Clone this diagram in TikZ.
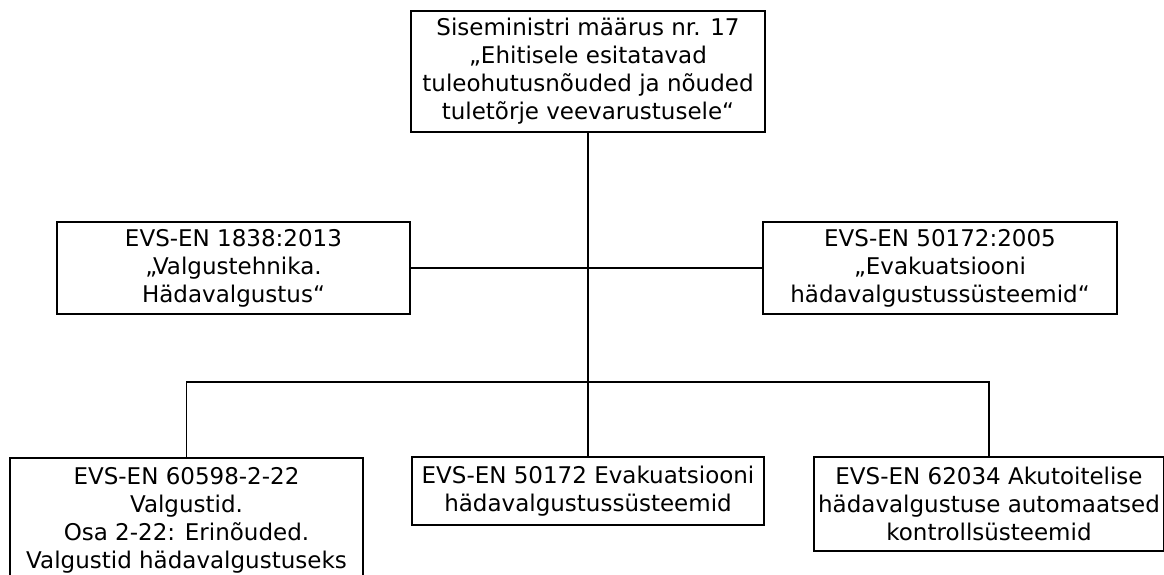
\documentclass[tikz,border=0pt]{standalone}
\usepackage{fontspec}
\setmainfont{DejaVu Sans}
\usetikzlibrary{positioning}
\tikzset{
  doc/.style={draw=black,line width=1.5pt,fill=white,align=center,inner sep=0pt,
    font=\fontsize{23}{28}\selectfont},
  link/.style={line width=1.5pt,draw=black},
}

\begin{document}
\begin{tikzpicture}[x=1pt,y=-1pt]
  \useasboundingbox (0,0) rectangle (1164,574);
  % regulation on top
  \node[doc,minimum width=354pt,minimum height=121pt] (regl) at (588,71.5)
    {Siseministri määrus nr. 17\\„Ehitisele esitatavad\\tuleohutusnõuded ja nõuded\\tuletõrje veevarustusele“};
  % standards, middle row
  \node[doc,minimum width=353pt,minimum height=92pt] (en1838) at (233.5,268)
    {EVS-EN 1838:2013\\„Valgustehnika.\\Hädavalgustus“};
  \node[doc,minimum width=354pt,minimum height=92pt] (en50172a) at (940,268)
    {EVS-EN 50172:2005\\„Evakuatsiooni\\hädavalgustussüsteemid“};
  % standards, bottom row
  \node[doc,minimum width=353pt,minimum height=124pt] (en60598) at (186.5,520)
    {EVS-EN 60598-2-22\\Valgustid.\\Osa 2-22: Erinõuded.\\Valgustid hädavalgustuseks};
  \node[doc,minimum width=352pt,minimum height=68pt] (en50172b) at (588,491)
    {EVS-EN 50172 Evakuatsiooni\\hädavalgustussüsteemid};
  \node[doc,minimum width=350pt,minimum height=94pt] (en62034) at (989,504)
    {EVS-EN 62034 Akutoitelise\\hädavalgustuse automaatsed\\kontrollsüsteemid};

  % tree lines
  \coordinate (hub) at (588,382);
  \draw[link] (regl.south) -- (hub);
  \draw[link] (en1838.east) -- (en50172a.west);
  \draw[link] (en60598.north) |- (hub) -| (en62034.north);
  \draw[link] (hub) -- (en50172b.north);
\end{tikzpicture}
\end{document}
